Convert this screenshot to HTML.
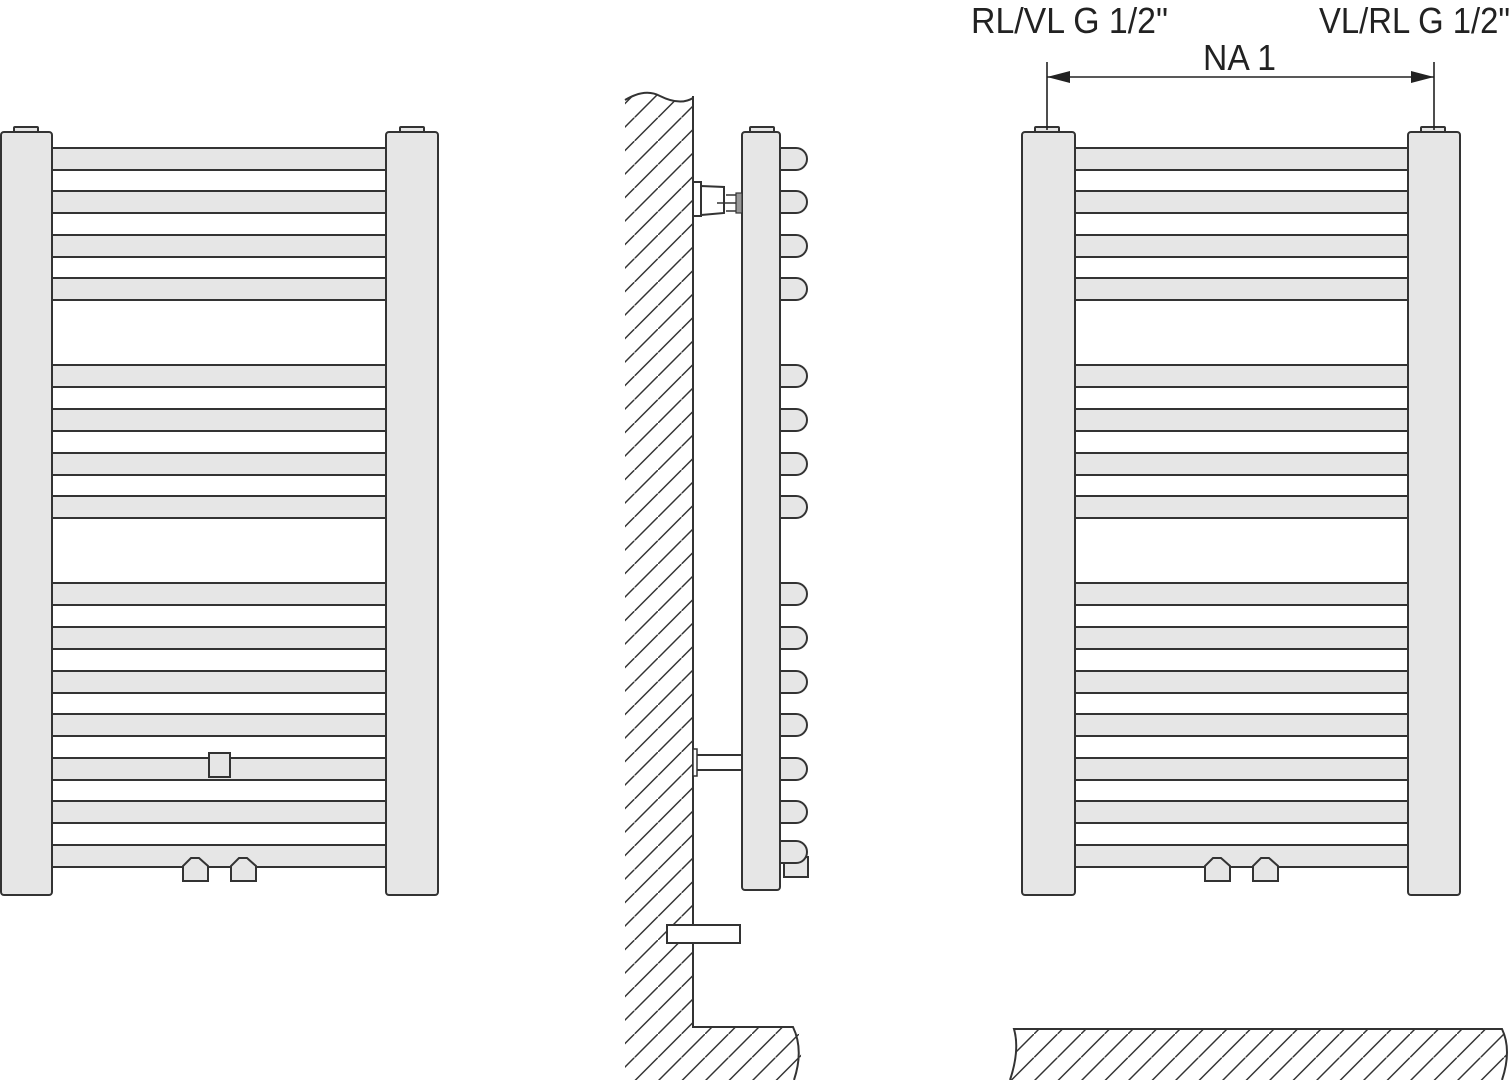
<!DOCTYPE html>
<html><head><meta charset="utf-8"><style>
html,body{margin:0;padding:0;background:#fff;}
svg{display:block;}
text{font-family:"Liberation Sans",sans-serif;fill:#222;}
</style></head><body>
<svg width="1512" height="1080" viewBox="0 0 1512 1080" xmlns="http://www.w3.org/2000/svg">
<defs>
<pattern id="h" patternUnits="userSpaceOnUse" width="23.5" height="23.5">
<line x1="-2" y1="25.5" x2="25.5" y2="-2" stroke="#333" stroke-width="1.5"/>
</pattern>
</defs>
<g stroke="#333" stroke-width="2" fill="#e6e6e6">
<g id="rad">
<rect x="14" y="127" width="24" height="6" rx="1"/>
<rect x="400" y="127" width="24" height="6" rx="1"/>
<rect x="52" y="148" width="334" height="22"/>
<rect x="52" y="191" width="334" height="22"/>
<rect x="52" y="235" width="334" height="22"/>
<rect x="52" y="278" width="334" height="22"/>
<rect x="52" y="365" width="334" height="22"/>
<rect x="52" y="409" width="334" height="22"/>
<rect x="52" y="453" width="334" height="22"/>
<rect x="52" y="496" width="334" height="22"/>
<rect x="52" y="583" width="334" height="22"/>
<rect x="52" y="627" width="334" height="22"/>
<rect x="52" y="671" width="334" height="22"/>
<rect x="52" y="714" width="334" height="22"/>
<rect x="52" y="758" width="334" height="22"/>
<rect x="52" y="801" width="334" height="22"/>
<rect x="52" y="845" width="334" height="22"/>
<rect x="1" y="132" width="51" height="763" rx="3"/>
<rect x="386" y="132" width="52" height="763" rx="3"/>
<path d="M183 881 V866 L191 858 H199 L208 866 V881 Z"/>
<path d="M231 881 V866 L239 858 H247 L256 866 V881 Z"/>
</g>
<rect x="209" y="753" width="21" height="24"/>
<g transform="translate(1021,0)">
<rect x="14" y="127" width="24" height="6" rx="1"/>
<rect x="400" y="127" width="24" height="6" rx="1"/>
<rect x="54" y="148" width="333" height="22"/>
<rect x="54" y="191" width="333" height="22"/>
<rect x="54" y="235" width="333" height="22"/>
<rect x="54" y="278" width="333" height="22"/>
<rect x="54" y="365" width="333" height="22"/>
<rect x="54" y="409" width="333" height="22"/>
<rect x="54" y="453" width="333" height="22"/>
<rect x="54" y="496" width="333" height="22"/>
<rect x="54" y="583" width="333" height="22"/>
<rect x="54" y="627" width="333" height="22"/>
<rect x="54" y="671" width="333" height="22"/>
<rect x="54" y="714" width="333" height="22"/>
<rect x="54" y="758" width="333" height="22"/>
<rect x="54" y="801" width="333" height="22"/>
<rect x="54" y="845" width="333" height="22"/>
<rect x="1" y="132" width="53" height="763" rx="3"/>
<rect x="387" y="132" width="52" height="763" rx="3"/>
<path d="M184 881 V866 L192 858 H200 L209 866 V881 Z"/>
<path d="M232 881 V866 L240 858 H248 L257 866 V881 Z"/>
</g>
</g>

<path d="M625 100 Q645 88 660 96 Q680 106 693 98 V1027 H797 Q806 1050 796 1080 H625 Z" fill="url(#h)" stroke="none"/>
<path d="M625 100 Q645 88 660 96 Q680 106 693 98" fill="none" stroke="#333" stroke-width="2"/>
<path d="M693 96 V1027 H793 Q804 1050 794 1080" fill="none" stroke="#333" stroke-width="2"/>
<g stroke="#333" stroke-width="2" fill="#e6e6e6">
<path d="M780 148 H796 A11 11 0 0 1 796 170 H780 Z"/>
<path d="M780 191 H796 A11 11 0 0 1 796 213 H780 Z"/>
<path d="M780 235 H796 A11 11 0 0 1 796 257 H780 Z"/>
<path d="M780 278 H796 A11 11 0 0 1 796 300 H780 Z"/>
<path d="M780 365 H796 A11 11 0 0 1 796 387 H780 Z"/>
<path d="M780 409 H796 A11 11 0 0 1 796 431 H780 Z"/>
<path d="M780 453 H796 A11 11 0 0 1 796 475 H780 Z"/>
<path d="M780 496 H796 A11 11 0 0 1 796 518 H780 Z"/>
<path d="M780 583 H796 A11 11 0 0 1 796 605 H780 Z"/>
<path d="M780 627 H796 A11 11 0 0 1 796 649 H780 Z"/>
<path d="M780 671 H796 A11 11 0 0 1 796 693 H780 Z"/>
<path d="M780 714 H796 A11 11 0 0 1 796 736 H780 Z"/>
<path d="M780 758 H796 A11 11 0 0 1 796 780 H780 Z"/>
<path d="M780 801 H796 A11 11 0 0 1 796 823 H780 Z"/>
<rect x="784" y="857" width="24" height="20"/>
<path d="M780 841 H796 A11 11 0 0 1 796 863 H780 Z"/>
<rect x="750" y="127" width="24" height="6" rx="1"/>
<rect x="742" y="132" width="38" height="758" rx="3"/>
<rect x="693" y="755" width="49" height="15" fill="#fff"/>
<rect x="693" y="749" width="4" height="27" fill="#fff" stroke-width="1.5"/>
<rect x="693" y="182" width="8" height="34" fill="#fff"/>
<path d="M701 186 L724 187 V213 L701 215 Z" fill="#fff"/>
<line x1="726" y1="195" x2="742" y2="195" stroke-width="1.5"/>
<line x1="717" y1="203" x2="742" y2="203" stroke-width="1.5"/>
<line x1="726" y1="211" x2="742" y2="211" stroke-width="1.5"/>
<rect x="736" y="193" width="6" height="20" fill="#999" stroke-width="1.2"/>
<rect x="667" y="925" width="73" height="18" fill="#fff"/>
</g>

<path d="M1014 1029 H1502 Q1512 1050 1502 1080 H1010 Q1020 1050 1014 1029 Z" fill="url(#h)" stroke="none"/>
<path d="M1010 1080 Q1020 1050 1014 1029 H1502 Q1512 1050 1502 1080" fill="none" stroke="#333" stroke-width="2"/>

<g stroke="#222" stroke-width="1.6">
<line x1="1047" y1="62" x2="1047" y2="130"/>
<line x1="1434" y1="62" x2="1434" y2="130"/>
<line x1="1047" y1="77" x2="1434" y2="77"/>
</g>
<path d="M1047 77 L1070 71 V83 Z" fill="#222"/>
<path d="M1434 77 L1411 71 V83 Z" fill="#222"/>
<text x="971" y="33" font-size="36" textLength="197" lengthAdjust="spacingAndGlyphs">RL/VL G 1/2"</text>
<text x="1319" y="33" font-size="36" textLength="191" lengthAdjust="spacingAndGlyphs">VL/RL G 1/2"</text>
<text x="1203" y="70" font-size="36" textLength="73" lengthAdjust="spacingAndGlyphs">NA 1</text>
</svg>
</body></html>
